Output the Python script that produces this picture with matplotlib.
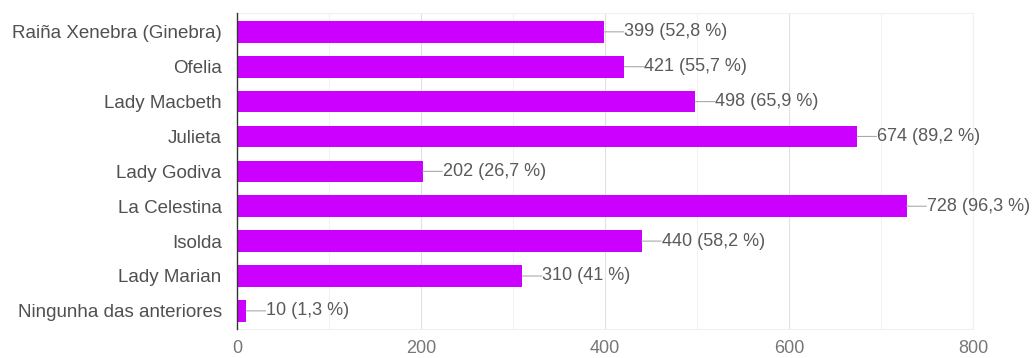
import matplotlib
matplotlib.use("Agg")
import matplotlib.pyplot as plt
from matplotlib.ticker import MultipleLocator

categories = ["Raiña Xenebra (Ginebra)", "Ofelia", "Lady Macbeth", "Julieta",
              "Lady Godiva", "La Celestina", "Isolda", "Lady Marian",
              "Ningunha das anteriores"]
values = [399, 421, 498, 674, 202, 728, 440, 310, 10]
percent_labels = ["52,8 %", "55,7 %", "65,9 %", "89,2 %", "26,7 %", "96,3 %",
                  "58,2 %", "41 %", "1,3 %"]
xticks = [0, 200, 400, 600, 800]

plt.rcParams['font.family'] = ['Liberation Sans', 'DejaVu Sans']

fig = plt.figure(figsize=(10.33, 3.58), dpi=100)
ax = fig.add_axes([237/1033, 1 - 329/358, (973 - 237)/1033, (329 - 13)/358])

y = list(range(len(categories)))
ax.barh(y, values, height=0.62, color="#cc00ff", zorder=3)

for yi, v, p in zip(y, values, percent_labels):
    ax.annotate("", xy=(v, yi), xytext=(14, 0), textcoords="offset points",
                arrowprops=dict(arrowstyle="-", color="#aaaaaa", lw=0.8,
                                shrinkA=0, shrinkB=0), zorder=4)
    ax.annotate(f"{v} ({p})", xy=(v, yi), xytext=(14.5, 0),
                textcoords="offset points", va="center", ha="left",
                fontsize=13, color="#5a5a5a", zorder=4)

ax.set_xlim(0, 800)
ax.set_ylim(8.52, -0.54)
ax.set_yticks(y)
ax.set_yticklabels(categories, fontsize=13.5, color="#505050")
ax.set_xticks(xticks)
ax.set_xticklabels([str(t) for t in xticks], fontsize=13, color="#777777")
ax.xaxis.set_minor_locator(MultipleLocator(100))
ax.grid(axis="x", which="major", color="#e2e2e2", lw=0.8, zorder=0)
ax.grid(axis="x", which="minor", color="#f3f3f3", lw=0.8, zorder=0)
ax.tick_params(axis="both", which="both", length=0)
ax.tick_params(axis="y", pad=11)
ax.tick_params(axis="x", pad=8)

for s in ["top", "right", "bottom"]:
    ax.spines[s].set_color("#f0f0f0")
    ax.spines[s].set_linewidth(0.8)
ax.spines["left"].set_color("#333333")
ax.spines["left"].set_linewidth(1.0)
ax.spines["left"].set_zorder(5)

fig.savefig("out.png", dpi=100)
